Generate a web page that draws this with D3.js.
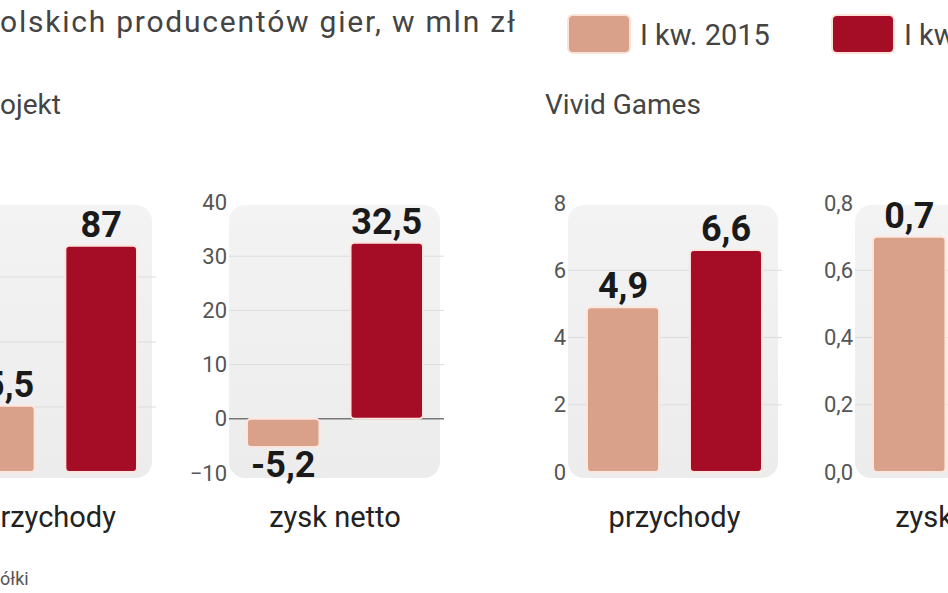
<!DOCTYPE html>
<html><head><meta charset="utf-8">
<script src="https://cdn.jsdelivr.net/npm/d3@7"></script>
<style>body{margin:0;background:#fff}svg{display:block}text{font-family:Roboto,"Noto Sans",sans-serif}</style>
</head><body>
<svg id="chart" width="948" height="593"></svg>
<script>
'use strict';

var series = ['I kw. 2015', 'I kw. 2016'];
var companies = ['CD Projekt', 'Vivid Games'];
var categories = ['przychody', 'zysk netto', 'przychody', 'zysk netto'];
var q2015 = [25.5, -5.2, 4.9, 0.7];
var q2016 = [87, 32.5, 6.6, 0.3];
var tickSets = [[0, 25, 50, 75, 100], [-10, 0, 10, 20, 30, 40], [0, 2, 4, 6, 8], [0, 0.2, 0.4, 0.6, 0.8]];
var tickFormats = [d3.format('d'), d3.format('d'), d3.format('d'), function (d) { return d3.format('.1f')(d).replace('.', ','); }];

// panel layout: bar span and y domain/range
var panels = [
  {x: [-37, 137], dom: [0, 100], rng: [472, 212], bg: [-60, 152], axis: false},
  {x: [247, 423], dom: [-10, 40], rng: [473, 202], bg: [229, 440], axis: true},
  {x: [587, 762], dom: [0, 8], rng: [472, 203], bg: [568, 778], axis: true},
  {x: [873, 1049], dom: [0, 0.8], rng: [472, 203], bg: [855, 1070], axis: true}
];
var colors = ['#d9a08a', '#a50d26'];
var num = function (v) { return String(v).replace('.', ','); };

var svg = d3.select('#chart');
var defs = svg.append('defs');
var g = defs.append('linearGradient').attr('id', 'bg').attr('x1', 0).attr('y1', 0).attr('x2', 0).attr('y2', 1);
g.append('stop').attr('offset', 0).attr('stop-color', '#f3f3f3');
g.append('stop').attr('offset', 1).attr('stop-color', '#ececec');

// header
svg.append('text').attr('x', 0).attr('y', 32).attr('font-size', 30).attr('fill', '#444')
  .attr('textLength', 515).attr('lengthAdjust', 'spacing')
  .text('olskich producentów gier, w mln zł');

var leg = svg.append('g');
series.forEach(function (s, i) {
  var x = 568 + i * 264;
  leg.append('rect').attr('x', x).attr('y', 15).attr('width', 62).attr('height', 38).attr('rx', 5)
    .attr('fill', colors[i]).attr('stroke', '#fbe3da').attr('stroke-width', 2);
  leg.append('text').attr('x', x + 72).attr('y', 45).attr('font-size', 29).attr('fill', '#444').text(s);
});

svg.append('text').attr('x', 0).attr('y', 114).attr('font-size', 28).attr('fill', '#444').text('ojekt');
svg.append('text').attr('x', 545).attr('y', 114).attr('font-size', 28).attr('fill', '#444').text(companies[1]);

panels.forEach(function (p, i) {
  var x = d3.scaleBand().domain(series).range(p.x).paddingInner(0.3);
  var y = d3.scaleLinear().domain(p.dom).range(p.rng);
  var pg = svg.append('g');

  pg.append('rect').attr('x', p.bg[0]).attr('y', 205).attr('width', p.bg[1] - p.bg[0])
    .attr('height', 273).attr('rx', 16).attr('fill', 'url(#bg)');

  pg.selectAll('.grid').data(tickSets[i].filter(function (t) { return t !== p.dom[0] && t !== p.dom[1]; }))
    .enter().append('line')
    .attr('x1', p.bg[0]).attr('x2', p.bg[1] + 4)
    .attr('y1', function (d) { return y(d); }).attr('y2', function (d) { return y(d); })
    .attr('stroke', function (d) { return d === 0 ? '#777' : '#ddd'; })
    .attr('stroke-width', function (d) { return d === 0 ? 1.5 : 1; });

  if (p.axis) {
    var ax = pg.append('g').attr('transform', 'translate(' + (p.bg[0] - 2) + ',0)')
      .call(d3.axisLeft(y).tickValues(tickSets[i]).tickSize(0).tickPadding(0).tickFormat(tickFormats[i]));
    ax.select('.domain').remove();
    ax.selectAll('text').attr('font-size', 22).attr('fill', '#555').attr('font-family', 'Roboto,sans-serif');
  }

  var vals = [q2015[i], q2016[i]];
  pg.selectAll('.bar').data(vals).enter().append('rect')
    .attr('x', function (d, j) { return x(series[j]); })
    .attr('width', x.bandwidth())
    .attr('y', function (d) { return y(Math.max(0, d)); })
    .attr('height', function (d) { return Math.abs(y(d) - y(0)); })
    .attr('rx', 4)
    .attr('fill', function (d, j) { return colors[j]; })
    .attr('stroke', '#fde6de').attr('stroke-width', 2);

  pg.selectAll('.val').data(vals).enter().append('text')
    .attr('x', function (d, j) { return x(series[j]) + x.bandwidth() / 2; })
    .attr('y', function (d) { return d >= 0 ? y(d) - 9 : y(d) + 30; })
    .attr('text-anchor', 'middle').attr('font-size', 36).attr('font-weight', 'bold')
    .attr('font-family', '"Liberation Sans Narrow","DejaVu Sans Condensed",sans-serif')
    .attr('fill', '#1a1a1a')
    .text(function (d) { return num(d); });

  pg.append('text').attr('x', (p.x[0] + p.x[1]) / 2).attr('y', 527).attr('text-anchor', 'middle')
    .attr('font-size', 29).attr('fill', '#222').text(categories[i]);
});

svg.append('text').attr('x', 0).attr('y', 585).attr('font-size', 18).attr('fill', '#555').text('ółki');
</script>
</body></html>
